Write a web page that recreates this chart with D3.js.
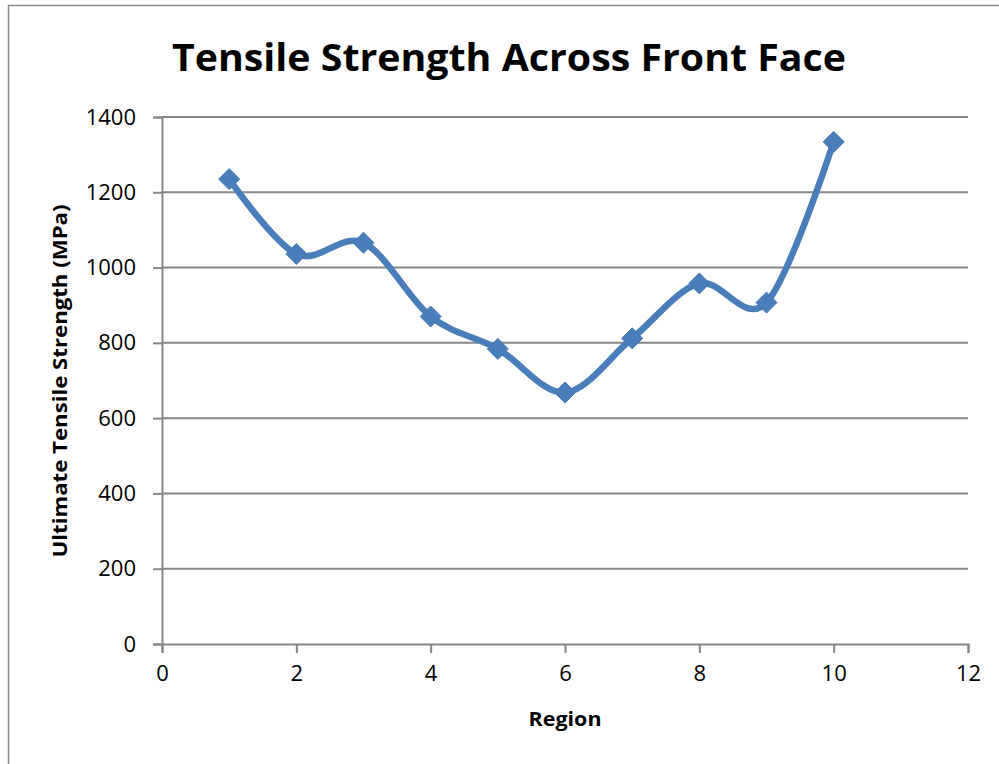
<!DOCTYPE html>
<html>
<head>
<meta charset="utf-8">
<script src="https://cdn.jsdelivr.net/npm/d3@7"></script>
<style>
  html, body { margin: 0; padding: 0; background: #fff; }
  svg { display: block; }
</style>
</head>
<body>
<script>
// Ultimate tensile strength per region across the front face
const regions = [1, 2, 3, 4, 5, 6, 7, 8, 9, 10];
const strengthMPa = [1235, 1036, 1066, 870, 784, 668, 812, 958, 907, 1334];
const xTicks = [0, 2, 4, 6, 8, 10, 12];
const yTicks = [0, 200, 400, 600, 800, 1000, 1200, 1400];

const W = 999, H = 764;
const plot = { left: 162, right: 968, top: 117, bottom: 644 };
const lineColor = "#4a7ebb";
const gridColor = "#878787";
const font = "'Open Sans', 'DejaVu Sans', sans-serif";

const svg = d3.select("body").append("svg")
  .attr("width", W).attr("height", H);

// chart frame
svg.append("rect")
  .attr("x", 8.5).attr("y", 5.5)
  .attr("width", W + 20).attr("height", H + 20)
  .attr("fill", "#fff").attr("stroke", "#8c8c8c").attr("stroke-width", 1.5);

const x = d3.scaleLinear().domain([0, 12]).range([plot.left, plot.right]);
const y = d3.scaleLinear().domain([0, 1400]).range([plot.bottom, plot.top]);

// horizontal gridlines
svg.append("g")
  .selectAll("line")
  .data(yTicks.filter(d => d > 0))
  .join("line")
  .attr("x1", plot.left).attr("x2", plot.right)
  .attr("y1", d => y(d)).attr("y2", d => y(d))
  .attr("stroke", gridColor).attr("stroke-width", 2);

// y axis
const yAxis = svg.append("g")
  .attr("transform", `translate(${plot.left},0)`)
  .call(d3.axisLeft(y).tickValues(yTicks).tickFormat(d3.format("d"))
    .tickSize(9).tickPadding(17));
yAxis.select(".domain").attr("stroke", gridColor).attr("stroke-width", 2);
yAxis.selectAll(".tick line").attr("stroke", gridColor).attr("stroke-width", 2);
yAxis.selectAll(".tick text")
  .attr("font-family", font).attr("font-size", 22).attr("fill", "#000");

// x axis
const xAxis = svg.append("g")
  .attr("transform", `translate(0,${plot.bottom})`)
  .call(d3.axisBottom(x).tickValues(xTicks).tickFormat(d3.format("d"))
    .tickSize(9).tickPadding(12));
xAxis.select(".domain").attr("stroke", gridColor).attr("stroke-width", 2);
xAxis.selectAll(".tick line").attr("stroke", gridColor).attr("stroke-width", 2);
xAxis.selectAll(".tick text")
  .attr("font-family", font).attr("font-size", 22).attr("fill", "#000");

const pts = regions.map((r, i) => [r, strengthMPa[i]]);

// smoothed series line
svg.append("path")
  .datum(pts)
  .attr("fill", "none")
  .attr("stroke", lineColor)
  .attr("stroke-width", 6.5)
  .attr("stroke-linejoin", "round")
  .attr("stroke-linecap", "round")
  .attr("d", d3.line()
    .x(d => x(d[0])).y(d => y(d[1]))
    .curve(d3.curveCardinal.tension(0)));

// diamond markers
const diamond = "M0,-10.5L10.5,0L0,10.5L-10.5,0Z";
svg.append("g")
  .selectAll("path")
  .data(pts)
  .join("path")
  .attr("transform", d => `translate(${x(d[0])},${y(d[1])})`)
  .attr("d", diamond)
  .attr("fill", lineColor)
  .attr("stroke", "#4677b4")
  .attr("stroke-width", 1);

// title
svg.append("text")
  .attr("x", 509).attr("y", 71)
  .attr("text-anchor", "middle")
  .attr("font-family", font).attr("font-weight", "bold")
  .attr("font-size", 38)
  .attr("textLength", 674).attr("lengthAdjust", "spacingAndGlyphs")
  .text("Tensile Strength Across Front Face");

// axis titles
svg.append("text")
  .attr("x", 565).attr("y", 726)
  .attr("text-anchor", "middle")
  .attr("font-family", font).attr("font-weight", "bold")
  .attr("font-size", 20)
  .attr("textLength", 73).attr("lengthAdjust", "spacingAndGlyphs")
  .text("Region");

svg.append("text")
  .attr("transform", `translate(67,381) rotate(-90)`)
  .attr("text-anchor", "middle")
  .attr("font-family", font).attr("font-weight", "bold")
  .attr("font-size", 20)
  .attr("textLength", 353).attr("lengthAdjust", "spacingAndGlyphs")
  .text("Ultimate Tensile Strength (MPa)");
</script>
</body>
</html>
